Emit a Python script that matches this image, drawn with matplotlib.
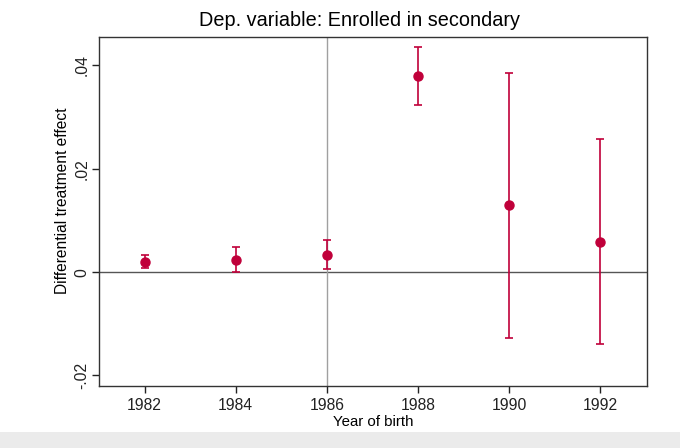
#Event-study style plot: differential treatment effect by year of birth
import matplotlib.pyplot as plt
import matplotlib.patches as mpatches
import numpy as np

plt.rcParams['font.family'] = ['Liberation Sans', 'DejaVu Sans']

#Data
years = [1982, 1984, 1986, 1988, 1990, 1992]
coef = [0.0019, 0.0023, 0.0033, 0.0379, 0.0129, 0.0058]
ci_low = [0.0008, 0.0000, 0.0006, 0.0323, -0.0127, -0.0140]
ci_high = [0.0033, 0.0048, 0.0062, 0.0435, 0.0386, 0.0257]

yticks = [-0.02, 0, 0.02, 0.04]
ytick_labels = ['-.02', '0', '.02', '.04']

red = '#C0003A'

fig = plt.figure(figsize=(6.8, 4.48), dpi=100)
ax = fig.add_axes([0.1456, 0.139, 0.806, 0.7777])

coef = np.array(coef)
err = np.array([coef - np.array(ci_low), np.array(ci_high) - coef])

ax.axhline(0, color='#555555', lw=1.0, zorder=1)
ax.axvline(1986, color='#A0A0A0', lw=1.0, zorder=1)

ax.errorbar(years, coef, yerr=err, fmt='o', color=red, ecolor=red,
            elinewidth=1.2, capsize=3.2, capthick=1.2, markersize=6.5, zorder=3)

ax.set_xlim(1981.0, 1993.03)
ax.set_ylim(-0.022, 0.04545)
ax.set_xticks(years)
ax.set_yticks(yticks)
ax.set_yticklabels(ytick_labels, rotation=90, va='center')

ax.tick_params(axis='both', direction='out', width=1, labelsize=11.3, colors='#222222')
ax.tick_params(axis='x', length=5, pad=4)
ax.tick_params(axis='y', length=5, pad=2)
for s in ax.spines.values():
    s.set_color('#333333')
    s.set_linewidth(1.0)

ax.set_xlabel('Year of birth', fontsize=10.8, labelpad=1)
ax.set_ylabel('Differential treatment effect', fontsize=11.2, labelpad=3)
ax.yaxis.label.set_y(0.53)
ax.set_title('Dep. variable: Enrolled in secondary', fontsize=14.3, pad=8, x=0.476)

#light gray band at bottom (screenshot edge)
fig.patches.append(mpatches.Rectangle((0, 0), 1, 16/448, transform=fig.transFigure,
                                      facecolor='#EBEBEB', edgecolor='none', zorder=0))

plt.savefig('out.png', dpi=100)
